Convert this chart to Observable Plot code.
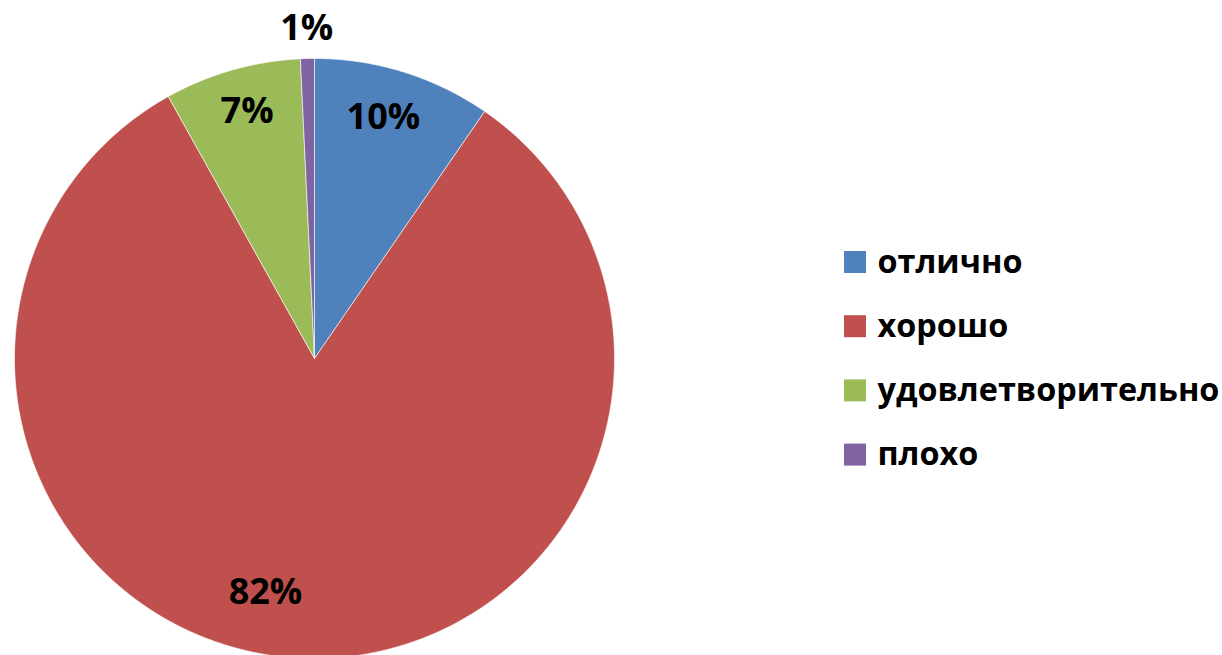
<!DOCTYPE html>
<html>
<head>
<meta charset="utf-8">
<script src="https://cdn.jsdelivr.net/npm/d3@7"></script>
<script src="https://cdn.jsdelivr.net/npm/@observablehq/plot@0.6"></script>
<style>
  html, body { margin: 0; padding: 0; background: #fff; }
  #chart svg { display: block; }
</style>
</head>
<body>
<div id="chart"></div>
<script>
// ---- data ----
const categories = ["отлично", "хорошо", "удовлетворительно", "плохо"];
const values = [9.6, 82.3, 7.35, 0.75];
const labels = ["10%", "82%", "7%", "1%"];
const colors = ["#4F81BD", "#C0504D", "#9BBB59", "#8064A2"];

// ---- layout (pixel space) ----
const W = 1222, H = 655;
const cx = 314, cy = 358, R = 300;
const labelRadius = [0.84, 0.78, 0.855, 1.1];
const labelDx = [-6, -38, 3, 0];
const FONT = "'Open Sans', 'DejaVu Sans', sans-serif";

const arcs = d3.pie().sort(null).value(d => d)(values);

// polygon vertices per slice, from pie angles
const slicePts = [];
arcs.forEach((a, i) => {
  const cat = categories[i];
  slicePts.push({cat, x: cx, y: cy});
  const n = Math.max(2, Math.ceil((a.endAngle - a.startAngle) / 0.005));
  for (let k = 0; k <= n; k++) {
    const t = a.startAngle + (a.endAngle - a.startAngle) * k / n;
    slicePts.push({cat, x: cx + R * Math.sin(t), y: cy - R * Math.cos(t)});
  }
  slicePts.push({cat, x: cx, y: cy});
});

const labelData = arcs.map((a, i) => {
  const m = (a.startAngle + a.endAngle) / 2;
  const r = R * labelRadius[i];
  return {label: labels[i], x: cx + r * Math.sin(m) + labelDx[i], y: cy - r * Math.cos(m)};
});

const legendData = categories.map((c, i) => ({cat: c, y: 262 + i * 64.2}));

const chart = Plot.plot({
  width: W,
  height: H,
  margin: 0,
  x: {domain: [0, W], range: [0, W], axis: null},
  y: {domain: [0, H], range: [0, H], axis: null},
  color: {domain: categories, range: colors},
  style: {background: "#fff"},
  marks: [
    Plot.line(slicePts, {x: "x", y: "y", z: "cat", fill: "cat", stroke: "#ffffff", strokeWidth: 1, strokeOpacity: 0.6, curve: "linear"}),
    Plot.text(labelData, {x: "x", y: "y", text: "label", fontSize: 36, fontWeight: "bold", fill: "#000", fontFamily: FONT}),
    Plot.rect(legendData, {x1: 844, x2: 866, y1: d => d.y - 11, y2: d => d.y + 11, fill: "cat"}),
    Plot.text(legendData, {x: 877, y: "y", text: "cat", textAnchor: "start", fontSize: 32.4, fontWeight: "bold", fill: "#000", fontFamily: FONT})
  ]
});
document.getElementById("chart").appendChild(chart);
</script>
</body>
</html>
